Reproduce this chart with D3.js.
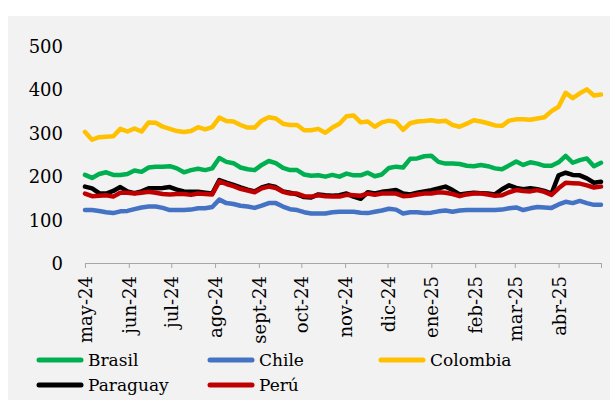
<!DOCTYPE html>
<html>
<head>
<meta charset="utf-8">
<script src="https://cdn.jsdelivr.net/npm/d3@7"></script>
<style>
  html, body { margin: 0; padding: 0; background: #ffffff; }
</style>
</head>
<body>
<svg id="chart" width="610" height="402"></svg>
<script>
// Series observed every 5 days, starting 1 May 2024
const startDate = "2024-05-01";
const stepDays = 5;

const brasil = [203,196,205,209,203,203,205,213,210,220,222,222,223,218,209,214,217,214,218,242,
  233,230,220,216,214,226,235,230,219,214,214,204,201,202,199,203,199,206,202,202,
  208,200,204,219,222,220,240,241,246,247,233,229,229,228,224,223,226,223,218,216,
  225,234,226,232,229,224,224,232,247,231,237,241,223,231];

const chile = [122,122,120,117,115,119,120,124,128,130,130,127,122,122,122,123,126,126,129,146,
  138,136,132,130,127,132,138,138,130,124,122,117,114,114,114,117,118,118,118,116,
  115,118,121,125,123,114,117,117,115,116,119,121,118,121,122,122,122,122,122,123,
  126,128,122,126,129,128,127,135,141,138,143,138,134,134];

const colombia = [302,284,290,291,292,309,303,310,303,324,323,314,309,304,302,304,313,308,313,335,
  327,326,318,312,312,328,336,333,321,318,318,306,306,309,300,312,321,338,340,324,
  326,314,324,328,325,307,322,326,327,329,326,328,318,314,321,329,326,322,317,316,
  328,331,331,330,333,336,350,360,392,380,391,400,386,388];

const paraguay = [176,172,161,160,166,175,165,161,165,172,172,173,175,169,165,164,164,162,160,191,
  185,180,174,169,165,174,179,175,165,162,158,152,151,158,156,155,156,160,153,148,
  163,160,164,166,168,160,158,162,165,168,172,176,168,158,160,162,161,160,158,170,
  179,173,170,172,170,166,160,202,208,203,202,195,185,187];

const peru = [160,154,155,156,153,162,162,160,162,164,162,159,158,159,159,157,160,159,158,188,
  182,177,171,167,163,172,176,173,164,160,160,154,153,156,154,153,153,157,156,155,
  160,157,160,160,160,154,155,158,160,160,163,162,159,154,158,160,160,158,155,156,
  163,168,166,165,168,164,157,172,185,184,183,179,174,176];

const seriesNames = ["Brasil", "Chile", "Colombia", "Paraguay", "Perú"];
const seriesValues = [brasil, chile, colombia, paraguay, peru];
const seriesColors = ["#00b050", "#4472c4", "#ffc000", "#000000", "#c00000"];

const yTicks = [0, 100, 200, 300, 400, 500];
const monthLabels = ["may-24","jun-24","jul-24","ago-24","sept-24","oct-24",
  "nov-24","dic-24","ene-25","feb-25","mar-25","abr-25"];

const FONT = "'DejaVu Serif', 'Liberation Serif', serif";

const svg = d3.select("#chart");
const W = 610, H = 402;

// panel background
svg.append("rect").attr("x", 8).attr("y", 16).attr("width", W - 8).attr("height", 384)
  .attr("fill", "#f2f2f2");

const parse = d3.timeParse("%Y-%m-%d");
const t0 = parse(startDate);
const tEnd = d3.timeMonth.offset(t0, 12);

const x = d3.scaleTime().domain([t0, tEnd]).range([85, 601]);
const y = d3.scaleLinear().domain([0, 500]).range([263, 46]);

// y axis labels (no axis line)
const yAxis = d3.axisLeft(y).tickValues(yTicks).tickSize(0).tickPadding(0);
const gy = svg.append("g").attr("transform", "translate(63,0)").call(yAxis)
  .attr("font-family", null).attr("font-size", null);
gy.select(".domain").remove();
gy.selectAll("text").style("font-family", FONT).style("font-size", "18px")
  .attr("fill", "#000").attr("dy", "0.36em");

// x axis with month ticks
const monthTicks = d3.timeMonth.range(t0, d3.timeDay.offset(tEnd, 1));
const xAxis = d3.axisBottom(x).tickValues(monthTicks).tickSize(5).tickSizeOuter(5)
  .tickFormat((d, i) => monthLabels[i] || "");
const gx = svg.append("g").attr("transform", "translate(0,263)").call(xAxis)
  .attr("font-family", null).attr("font-size", null);
gx.select(".domain").attr("stroke", "#a6a6a6");
gx.selectAll(".tick line").attr("stroke", "#a6a6a6");
gx.selectAll("text")
  .style("font-family", FONT).style("font-size", "18px").attr("fill", "#000")
  .attr("transform", "rotate(-90)")
  .attr("text-anchor", "end")
  .attr("x", -13).attr("y", 0).attr("dy", "0.36em");

// lines
const line = d3.line()
  .x((d, i) => x(d3.timeDay.offset(t0, i * stepDays)))
  .y(d => y(d));

seriesValues.forEach((vals, k) => {
  svg.append("path")
    .datum(vals)
    .attr("d", line)
    .attr("fill", "none")
    .attr("stroke", seriesColors[k])
    .attr("stroke-width", 4.5)
    .attr("stroke-linejoin", "round")
    .attr("stroke-linecap", "round");
});

// legend
const legendPos = [[37, 360], [208, 360], [379, 360], [37, 385], [208, 385]];
const lg = svg.append("g");
seriesNames.forEach((name, k) => {
  const [lx, ly] = legendPos[k];
  lg.append("line").attr("x1", lx + 2).attr("x2", lx + 44).attr("y1", ly).attr("y2", ly)
    .attr("stroke", seriesColors[k]).attr("stroke-width", 5).attr("stroke-linecap", "round");
  lg.append("text").attr("x", lx + 51).attr("y", ly + 6)
    .style("font-family", FONT).style("font-size", "17px").attr("fill", "#000").text(name);
});
</script>
</body>
</html>
